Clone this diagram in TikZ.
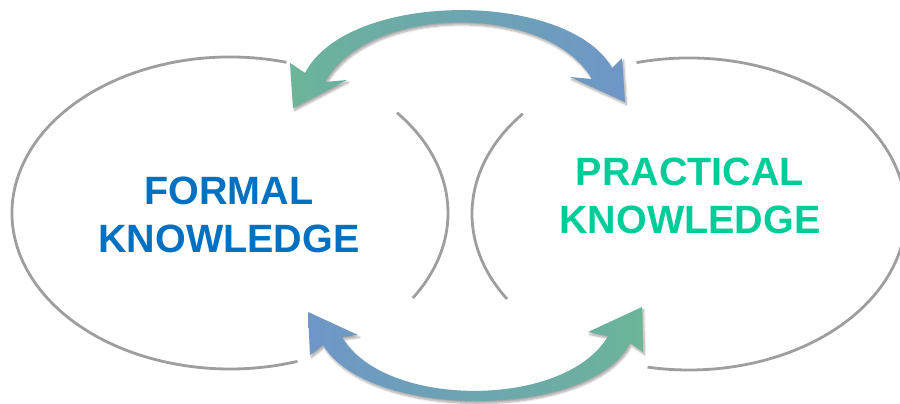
\documentclass[tikz,border=0pt]{standalone}
\usepackage{fontspec}
\setmainfont{Liberation Sans}
\usetikzlibrary{shadows.blur}

\definecolor{formalblue}{HTML}{0070C0}
\definecolor{practgreen}{HTML}{00CC99}
\definecolor{arrowgreen}{HTML}{6BB598}
\definecolor{arrowblue}{HTML}{6E96C8}
\definecolor{rimgray}{HTML}{9E9E9E}

\begin{document}
\begin{tikzpicture}[x=1pt,y=1pt]
        \tikzstyle{every node}=[inner sep=0pt, align=center, font=\bfseries\fontsize{39.5}{48}\selectfont]
        \tikzstyle{rim}=[draw=rimgray, line width=2.8pt]
        \tikzstyle{band}=[blur shadow={shadow xshift=1.5pt, shadow yshift=-2.5pt, shadow blur steps=6, shadow opacity=35}]

        \useasboundingbox (0,0) rectangle (900,404);

        \coordinate (fc) at (230,191);
        \coordinate (pc) at (689,190);

        % the two broken outlines
        \draw[rim, shift={(fc)}] (75:218 and 156) arc[start angle=75, end angle=288, x radius=218, y radius=156];
        \draw[rim, shift={(fc)}] (-33:218 and 156) arc[start angle=-33, end angle=40, x radius=218, y radius=156];
        \draw[rim, shift={(pc)}] (104:217 and 156) arc[start angle=104, end angle=-101, x radius=217, y radius=156];
        \draw[rim, shift={(pc)}] (140:217 and 156) arc[start angle=140, end angle=213, x radius=217, y radius=156];

        \node (formal)    [text=formalblue] at (229,189) {FORMAL\\KNOWLEDGE};
        \node (practical) [text=practgreen] at (690,208) {PRACTICAL\\KNOWLEDGE};

        % upper and lower double arrows
        \shade[band, left color=arrowgreen, right color=arrowblue]
            (293,296) -- (290,341) -- (305,331)
            .. controls (348,414) and (568,414) .. (612,336)
            -- (622,346) -- (625,302) -- (570,327) -- (592,325)
            .. controls (548,401) and (368,401) .. (325,322)
            -- (347,324) -- cycle;
        \shade[band, left color=arrowblue, right color=arrowgreen]
            (308,92) -- (310,49) -- (323,59)
            .. controls (368,-16) and (590,-16) .. (630,61)
            -- (643,52) -- (642,97) -- (588,72) -- (608,68)
            .. controls (566,-5) and (384,-5) .. (342,67)
            -- (358,69) -- cycle;

    \end{tikzpicture}
\end{document}
